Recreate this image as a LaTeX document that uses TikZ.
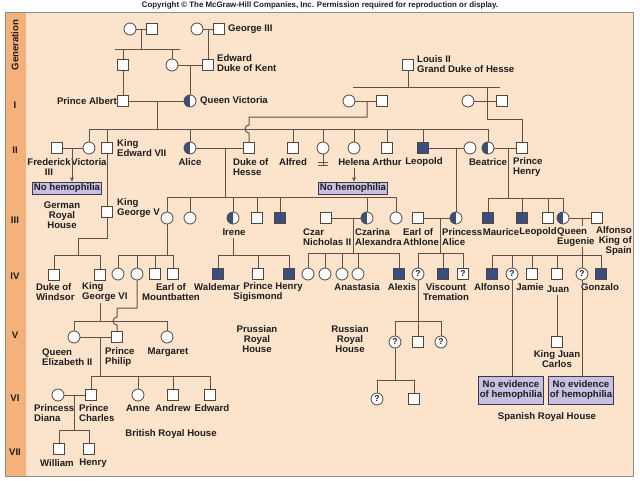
\documentclass[tikz,border=0pt]{standalone}
\usepackage{fontspec}
\setmainfont{Liberation Sans}
\usetikzlibrary{arrows.meta}
\definecolor{bg}{RGB}{252,228,204}
\definecolor{strip}{RGB}{244,178,122}
\definecolor{aff}{RGB}{58,78,128}
\definecolor{boxf}{RGB}{200,192,226}
\definecolor{boxd}{RGB}{60,55,80}
\definecolor{linec}{RGB}{98,82,68}
\definecolor{framec}{RGB}{140,140,140}
\definecolor{symc}{RGB}{80,70,62}
\definecolor{txt}{RGB}{30,28,28}
\newcommand{\labfont}{\fontsize{9.6}{10}\selectfont\bfseries}
\newcommand{\qmfont}{\fontsize{8.5}{8.5}\selectfont\bfseries}
\begin{document}
\begin{tikzpicture}[x=1pt,y=-1pt,
  ln/.style={draw=linec, line width=1pt},
  arr/.style={ln, -{Stealth[length=4.5pt,width=4pt]}},
  sym/.style={draw=symc, line width=0.8pt, fill=white, inner sep=0pt, outer sep=0pt},
  sq/.style={sym, rectangle, minimum size=11.5pt},
  ci/.style={sym, circle, minimum size=12pt},
  sqa/.style={sq, fill=aff},
  cic/.style={ci, path picture={\fill[aff] (path picture bounding box.south west) rectangle (path picture bounding box.north);}},
  qc/.style={ci, font=\qmfont, text=txt},
  qs/.style={sq, font=\qmfont, text=txt},
  lab/.style={font=\labfont, inner sep=0pt, align=left, text=txt},
  labc/.style={font=\labfont, inner sep=0pt, align=center, text=txt},
  nob/.style={draw=boxd, fill=boxf, line width=0.9pt, font=\labfont, inner xsep=1pt, inner ysep=1.5pt, align=center, text=txt},
]
\useasboundingbox (0,0) rectangle (640,480);
% frame
\fill[bg] (5,12) rectangle (633,476);
\fill[strip] (5,12) rectangle (26,476);
\draw[framec, line width=1pt] (5,12) rectangle (633,476);
\node[font=\fontsize{7.9}{8}\selectfont\bfseries, text=txt, inner sep=0pt] (copy) at (320,5) {Copyright \textcopyright{} The McGraw-Hill Companies, Inc. Permission required for reproduction or display.};
% generation labels
\node[labc, rotate=90] (gen) at (15,45) {Generation};
\node[labc] (gI) at (15,105) {I};
\node[labc] (gII) at (15,150) {II};
\node[labc] (gIII) at (15,220) {III};
\node[labc] (gIV) at (15,276) {IV};
\node[labc] (gV) at (15,335) {V};
\node[labc] (gVI) at (15,398) {VI};
\node[labc] (gVII) at (15,452) {VII};

% ---------- generation 0
\node[ci] (gm1) at (130,29) {};
\node[sq] (gf1) at (152,29) {};
\node[ci] (gm2) at (197,29) {};
\node[sq] (g3) at (219,29) {};
\node[lab, anchor=west] (g3l) at (228,29) {George III};
\node[sq] (af) at (123,65) {};
\node[ci] (vm) at (172,65) {};
\node[sq] (ed) at (208,65) {};
\node[lab, anchor=west] (edl) at (217,63) {Edward\\Duke of Kent};
\node[sq] (l2) at (408,65) {};
\node[lab, anchor=west] (l2l) at (417,64) {Louis II\\Grand Duke of Hesse};

% ---------- generation I
\node[sq] (albert) at (123,101) {};
\node[cic] (qv) at (190,101) {};
\node[lab, anchor=east] (albl) at (117,101) {Prince Albert};
\node[lab, anchor=west] (qvl) at (200,101) {Queen Victoria};
\node[ci] (hm1) at (349,101) {};
\node[sq] (hc) at (382,101) {};
\node[ci] (hm2) at (468,101) {};
\node[sq] (ha) at (502,101) {};

% ---------- generation II
\node[sq] (fred) at (57,148) {};
\node[ci] (vicp) at (89,148) {};
\node[sq] (ed7) at (107,148) {};
\node[cic] (alice) at (190,148) {};
\node[sq] (dhesse) at (249,148) {};
\node[sq] (alfred) at (293,148) {};
\node[ci] (nooff) at (323,148) {};
\node[ci] (helena) at (354,148) {};
\node[sq] (arthur) at (387,148) {};
\node[sqa] (leopold) at (423,148) {};
\node[ci] (helw) at (470,148) {};
\node[cic] (beatrice) at (488,148) {};
\node[sq] (henry) at (522,148) {};

\node[labc] (fredl) at (49,167) {Frederick\\III};
\node[labc] (vicpl) at (89,162) {Victoria};
\node[lab, anchor=west] (ed7l) at (117,148) {King\\Edward VII};
\node[labc] (alicel) at (190,162) {Alice};
\node[lab, anchor=west] (dhessel) at (233,167) {Duke of\\Hesse};
\node[labc] (alfredl) at (293,162) {Alfred};
\node[labc] (helenal) at (354,162) {Helena};
\node[labc] (arthurl) at (387,162) {Arthur};
\node[labc] (leopoldl) at (424,162) {Leopold};
\node[labc] (beatricel) at (488,162) {Beatrice};
\node[lab, anchor=west] (henryl) at (513,167) {Prince\\Henry};

\node[nob] (box1) at (67,188) {No hemophilia};
\node[nob] (box2) at (353,188) {No hemophilia};

% ---------- generation III
\node[sq] (gv) at (107,212) {};
\node[ci] (vh) at (167,218) {};
\node[ci] (ella) at (190,218) {};
\node[cic] (irene) at (233,218) {};
\node[sq] (ernest) at (257,218) {};
\node[sqa] (fried) at (280,218) {};
\node[sq] (czar) at (326,218) {};
\node[cic] (alix) at (367,218) {};
\node[ci] (marie) at (396,218) {};
\node[sq] (earl) at (418,218) {};
\node[cic] (palice) at (456,218) {};
\node[sqa] (maurice) at (488,218) {};
\node[sqa] (leo2) at (522,218) {};
\node[sq] (alexb) at (548,218) {};
\node[cic] (eugenie) at (563,218) {};
\node[sq] (alf13) at (597,218) {};

\node[lab, anchor=west] (gvl) at (117,208.5) {King\\George V};
\node[labc] (germ) at (62,215) {German\\Royal\\House};
\node[labc] (irenel) at (234,232) {Irene};
\node[lab, anchor=west] (czarl) at (303,237) {Czar\\Nicholas II};
\node[lab, anchor=west] (alixl) at (355,237) {Czarina\\Alexandra};
\node[lab, anchor=west] (earll) at (403,237) {Earl of\\Athlone};
\node[lab, anchor=west] (palicel) at (442,237) {Princess\\Alice};
\node[labc] (mauricel) at (501,232) {Maurice};
\node[labc] (leo2l) at (538,232) {Leopold};
\node[lab, anchor=west] (eugeniel) at (557,237) {Queen\\Eugenie};
\node[lab, anchor=east, align=right] (alf13l) at (632,241) {Alfonso\\King of\\Spain};

% ---------- generation IV
\node[sq] (windsor) at (54,275) {};
\node[sq] (g6) at (100,275) {};
\node[ci] (bat1) at (118,274) {};
\node[ci] (bat2) at (137,274) {};
\node[sq] (bat3) at (155,274) {};
\node[sq] (bat4) at (173,274) {};
\node[sqa] (wald) at (218,274) {};
\node[sq] (sigis) at (258,274) {};
\node[sqa] (henp) at (289,274) {};
\node[ci] (ru1) at (308,274) {};
\node[ci] (ru2) at (325,274) {};
\node[ci] (ru3) at (342,274) {};
\node[ci] (ru4) at (358,274) {};
\node[sqa] (alexis) at (399,274) {};
\node[qc] (may) at (418,274) {?};
\node[sqa] (trem) at (443,274) {};
\node[qs] (qs1) at (463,274) {?};
\node[sqa] (alfs) at (492,274) {};
\node[qc] (qc2) at (512,274) {?};
\node[sq] (jamie) at (532,274) {};
\node[sq] (juan) at (557,274) {};
\node[qc] (qc3) at (582,274) {?};
\node[sqa] (gonz) at (601,274) {};

\node[lab, anchor=west] (windsorl) at (36,292) {Duke of\\Windsor};
\node[lab, anchor=west] (g6l) at (82,292) {King\\George VI};
\node[labc] (mountl) at (171,292) {Earl of\\Mountbatten};
\node[labc] (waldl) at (217,287) {Waldemar};
\node[labc] (sigisl) at (258,292) {Prince\\Sigismond};
\node[labc] (henpl) at (289,287) {Henry};
\node[labc] (anastl) at (357,287) {Anastasia};
\node[labc] (alexisl) at (402,287) {Alexis};
\node[labc] (treml) at (446,292) {Viscount\\Tremation};
\node[labc] (alfsl) at (492,287) {Alfonso};
\node[labc] (jamiel) at (530,287) {Jamie};
\node[labc] (juanl) at (558,289) {Juan};
\node[labc] (gonzl) at (600,287) {Gonzalo};
\node[labc] (pruss) at (257,339) {Prussian\\Royal\\House};
\node[labc] (russ) at (350,339) {Russian\\Royal\\House};

% ---------- generation V
\node[ci] (eliz) at (74,337) {};
\node[sq] (philip) at (117,337) {};
\node[ci] (marg) at (167,337) {};
\node[qc] (qc4) at (395,342) {?};
\node[sq] (sq5) at (418,342) {};
\node[qc] (qc5) at (441,342) {?};
\node[sq] (jc) at (557,342) {};

\node[lab, anchor=west] (elizl) at (42,357) {Queen\\Elizabeth II};
\node[lab, anchor=west] (philipl) at (105,357) {Prince\\Philip};
\node[labc] (margl) at (168,352) {Margaret};
\node[labc] (jcl) at (557,359) {King Juan\\Carlos};

\node[nob, minimum width=64pt, minimum height=28pt] (nb1) at (511,390) {No evidence\\of hemophilia};
\node[nob, minimum width=64pt, minimum height=28pt] (nb2) at (581,390) {No evidence\\of hemophilia};
\node[labc] (span) at (547,417) {Spanish Royal House};

% ---------- generation VI
\node[ci] (diana) at (58,395) {};
\node[sq] (charles) at (91,395) {};
\node[ci] (anne) at (138,395) {};
\node[sq] (andrew) at (173,395) {};
\node[sq] (edw) at (210,395) {};
\node[qc] (qc6) at (377,399) {?};
\node[sq] (sq6) at (414,399) {};

\node[lab, anchor=west] (dianal) at (34,413) {Princess\\Diana};
\node[lab, anchor=west] (charlesl) at (79,413) {Prince\\Charles};
\node[labc] (annel) at (138,408) {Anne};
\node[labc] (andrewl) at (173,408) {Andrew};
\node[labc] (edwl) at (212,408) {Edward};
\node[labc] (brit) at (171,434) {British Royal House};

% ---------- generation VII
\node[sq] (will) at (59,449) {};
\node[sq] (harry) at (89,449) {};
\node[labc] (willl) at (57,463) {William};
\node[labc] (harryl) at (93,463) {Henry};

% ================= connectors
% top-left family
\draw[ln] (gm1) -- (gf1);
\coordinate (c1) at (141,29); \coordinate (c1b) at (141,49);
\draw[ln] (c1) -- (c1b);
\coordinate (s1a) at (115,49); \coordinate (s1b) at (180,49);
\draw[ln] (s1a) -- (s1b);
\draw[ln] (af |- s1a) -- (af);
\draw[ln] (vm |- s1a) -- (vm);
\draw[ln] (gm2) -- (g3);
\draw[ln] (ed |- g3) -- (ed);
\draw[ln] (vm) -- (ed);
\draw[ln] (qv |- vm) -- (qv);
\draw[ln] (af) -- (albert);
\draw[ln] (albert) -- (qv);
% Victoria's children
\coordinate (c2) at (157,101); \coordinate (c2b) at (157,129);
\draw[ln] (c2) -- (c2b);
\coordinate (s2a) at (90,129); \coordinate (s2b) at (488,129);
\draw[ln] (s2a) -- (s2b);
\foreach \n in {vicp,ed7,alice,alfred,nooff,helena,arthur,leopold,beatrice}
  \draw[ln] (\n |- s2a) -- (\n);
% Louis II
\coordinate (s3a) at (353,87); \coordinate (s3b) at (500,87);
\draw[ln] (s3a) -- (s3b);
\draw[ln] (l2) -- (l2 |- s3a);
\draw[ln] (hm1) -- (hc);
\draw[ln] (hm2) -- (ha);
\coordinate (c3) at (367,101); \coordinate (c3b) at (367,117);
\coordinate (c3c) at (249,117); \coordinate (hop1) at (249,125);
\draw[ln] (c3) -- (c3b) -- (c3c) -- (hop1) arc[start angle=270,end angle=90,radius=4] -- (dhesse);
\coordinate (c4) at (487,87); \coordinate (c4b) at (487,119); \coordinate (c4c) at (522,119);
\draw[ln] (c4) -- (c4b) -- (c4c) -- (henry);
% Frederick & Victoria
\draw[ln] (fred) -- (vicp);
\coordinate (a1) at (72,148);
\draw[arr] (a1) -- (a1 |- box1.north);
% Helena
\coordinate (a2) at (354,168);
\draw[arr] (a2) -- (a2 |- box2.north);
% no offspring mark
\coordinate (no1) at (323,165.5);
\draw[ln] (nooff) -- (no1);
\coordinate (nb1a) at (318,162); \coordinate (nb1b) at (328,162);
\coordinate (nb2a) at (318,165.5); \coordinate (nb2b) at (328,165.5);
\draw[ln] (nb1a) -- (nb1b);
\draw[ln] (nb2a) -- (nb2b);
% Alice & Duke of Hesse
\draw[ln] (alice) -- (dhesse);
\coordinate (c5) at (225,148); \coordinate (c5b) at (225,197);
\draw[ln] (c5) -- (c5b);
\coordinate (s5a) at (167,197); \coordinate (s5b) at (396,197);
\draw[ln] (s5a) -- (s5b);
\foreach \n in {vh,ella,irene,ernest,fried,alix,marie}
  \draw[ln] (\n |- s5a) -- (\n);
% Edward VII -> George V -> children
\draw[ln] (ed7) -- (gv);
\coordinate (c6) at (107,238); \coordinate (c6b) at (78,238); \coordinate (c6c) at (78,255);
\draw[ln] (gv) -- (c6) -- (c6b) -- (c6c);
\coordinate (s6a) at (54,255); \coordinate (s6b) at (100,255);
\draw[ln] (s6a) -- (s6b);
\draw[ln] (windsor |- s6a) -- (windsor);
\draw[ln] (g6 |- s6a) -- (g6);
% Leopold
\draw[ln] (leopold) -- (helw);
\draw[ln] (palice |- helw) -- (palice);
% Beatrice & Henry
\draw[ln] (beatrice) -- (henry);
\coordinate (c7) at (508,148); \coordinate (c7b) at (508,198);
\draw[ln] (c7) -- (c7b);
\coordinate (s7a) at (488,198); \coordinate (s7b) at (563,198);
\draw[ln] (s7a) -- (s7b);
\foreach \n in {maurice,leo2,alexb,eugenie}
  \draw[ln] (\n |- s7a) -- (\n);
% Victoria of Hesse
\coordinate (c8) at (167,255);
\draw[ln] (vh) -- (c8);
\coordinate (s8a) at (118,255); \coordinate (s8b) at (173,255);
\draw[ln] (s8a) -- (s8b);
\foreach \n in {bat1,bat2,bat3,bat4}
  \draw[ln] (\n |- s8a) -- (\n);
% Irene (line resumes below her label)
\coordinate (c9) at (233,255); \coordinate (c9a) at (233,238);
\draw[ln] (c9a) -- (c9);
\coordinate (s9a) at (218,255); \coordinate (s9b) at (289,255);
\draw[ln] (s9a) -- (s9b);
\foreach \n in {wald,sigis,henp}
  \draw[ln] (\n |- s9a) -- (\n);
% Nicholas & Alexandra
\draw[ln] (czar) -- (alix);
\coordinate (c10) at (353,218); \coordinate (c10b) at (353,253);
\draw[ln] (c10) -- (c10b);
\coordinate (s10a) at (308,253); \coordinate (s10b) at (399,253);
\draw[ln] (s10a) -- (s10b);
\foreach \n in {ru1,ru2,ru3,ru4,alexis}
  \draw[ln] (\n |- s10a) -- (\n);
% Earl of Athlone & Princess Alice
\draw[ln] (earl) -- (palice);
\coordinate (c11) at (440,218); \coordinate (c11b) at (440,253);
\draw[ln] (c11) -- (c11b);
\coordinate (s11a) at (418,253); \coordinate (s11b) at (463,253);
\draw[ln] (s11a) -- (s11b);
\foreach \n in {may,trem,qs1}
  \draw[ln] (\n |- s11a) -- (\n);
% Eugenie & Alfonso (line interrupted by her label)
\draw[ln] (eugenie) -- (alf13);
\coordinate (c12) at (582,218); \coordinate (c12m) at (582,226);
\coordinate (c12n) at (582,247); \coordinate (c12b) at (582,255);
\draw[ln] (c12) -- (c12m);
\draw[ln] (c12n) -- (c12b);
\coordinate (s12a) at (492,255); \coordinate (s12b) at (601,255);
\draw[ln] (s12a) -- (s12b);
\foreach \n in {alfs,qc2,jamie,juan,qc3,gonz}
  \draw[ln] (\n |- s12a) -- (\n);
\coordinate (jca) at (557,295);
\draw[ln] (jca) -- (jc);
\draw[ln] (qc2) -- (qc2 |- nb1.north);
\draw[ln] (qc3) -- (qc3 |- nb2.north);
% George VI (line resumes below his label)
\coordinate (s13a) at (74,321); \coordinate (s13b) at (167,321);
\coordinate (g6a) at (100,303);
\draw[ln] (g6a) -- (g6a |- s13a);
\draw[ln] (s13a) -- (s13b);
\draw[ln] (eliz |- s13a) -- (eliz);
\draw[ln] (marg |- s13a) -- (marg);
% Alice of Battenberg -> Philip
\coordinate (c14) at (137,308); \coordinate (c14b) at (117,308); \coordinate (hop2) at (117,317);
\draw[ln] (bat2) -- (c14) -- (c14b) -- (hop2) arc[start angle=270,end angle=90,radius=4] -- (philip);
% Lady May line
\coordinate (s15a) at (395,321); \coordinate (s15b) at (441,321);
\draw[ln] (may) -- (sq5);
\draw[ln] (s15a) -- (s15b);
\draw[ln] (qc4 |- s15a) -- (qc4);
\draw[ln] (qc5 |- s15a) -- (qc5);
\coordinate (c16) at (395,380);
\draw[ln] (qc4) -- (c16);
\coordinate (s16a) at (377,380); \coordinate (s16b) at (414,380);
\draw[ln] (s16a) -- (s16b);
\draw[ln] (qc6 |- s16a) -- (qc6);
\draw[ln] (sq6 |- s16a) -- (sq6);
% Elizabeth & Philip
\draw[ln] (eliz) -- (philip);
\coordinate (c17) at (100,337); \coordinate (c17b) at (100,376);
\draw[ln] (c17) -- (c17b);
\coordinate (s17a) at (91,376); \coordinate (s17b) at (210,376);
\draw[ln] (s17a) -- (s17b);
\foreach \n in {charles,anne,andrew,edw}
  \draw[ln] (\n |- s17a) -- (\n);
% Diana & Charles
\draw[ln] (diana) -- (charles);
\coordinate (c18) at (74,395); \coordinate (c18b) at (74,430);
\draw[ln] (c18) -- (c18b);
\coordinate (s18a) at (59,430); \coordinate (s18b) at (89,430);
\draw[ln] (s18a) -- (s18b);
\draw[ln] (will |- s18a) -- (will);
\draw[ln] (harry |- s18a) -- (harry);
\end{tikzpicture}
\end{document}
